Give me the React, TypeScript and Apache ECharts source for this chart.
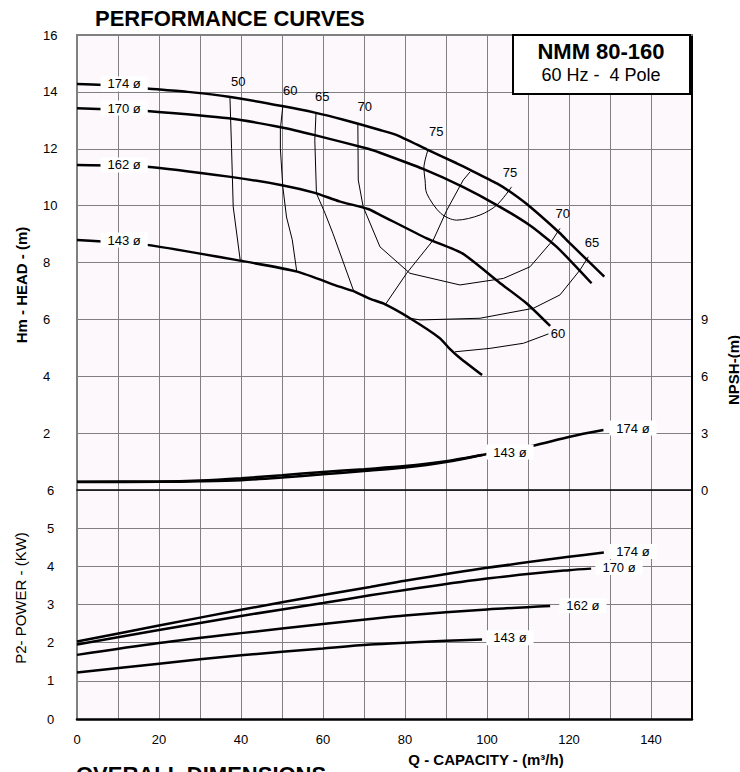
import React, { useEffect, useRef } from 'react';
import * as echarts from 'echarts';

const FONT = '"Liberation Sans", Arial, sans-serif';

// ---- Head curves: [Q (m3/h), H (m)] ----
const head174 = [[0, 14.28], [10, 14.22], [17, 14.12], [27, 14.0], [37, 13.83], [50, 13.5], [58, 13.27], [65, 13.02], [73.9, 12.66], [78, 12.48], [85.3, 11.98], [92.6, 11.49], [96, 11.25], [102.4, 10.78], [106, 10.45], [110.5, 9.96], [117.8, 9.03], [120.2, 8.68], [128.6, 7.5]];
const head170 = [[0, 13.42], [10, 13.38], [17, 13.33], [37, 13.07], [50, 12.75], [58, 12.48], [71, 12.0], [73.9, 11.86], [84.4, 11.29], [94.1, 10.66], [102.4, 10.02], [110.5, 9.3], [117, 8.55], [125.5, 7.27]];
const head162 = [[0, 11.43], [17, 11.37], [37, 11.02], [50, 10.72], [58, 10.45], [64, 10.15], [71, 9.88], [74, 9.67], [85.3, 8.85], [94, 8.32], [103, 7.3], [109.7, 6.56], [115.4, 5.77]];
const head143 = [[0, 8.79], [17, 8.62], [40, 8.06], [53.7, 7.68], [64, 7.15], [67.3, 7.0], [71.5, 6.72], [74.7, 6.56], [81.2, 6.04], [88.5, 5.34], [91, 4.95], [93.4, 4.64], [98.8, 4.04]];

// ---- Iso-efficiency lines: [Q, H] ----
const eff50 = [[37.3, 13.83], [37.7, 12.0], [38.1, 9.96], [39.8, 8.09]];
const eff60 = [[50.2, 13.5], [49.6, 12.7], [49.6, 12.0], [50.2, 10.66], [51.1, 9.6], [52.5, 8.8], [53.6, 7.68]];
const eff65 = [[58.3, 13.27], [58.0, 12.3], [58.4, 10.43], [60.5, 9.73], [62.4, 9.03], [67.4, 7.03]];
const eff70 = [[68.5, 12.9], [68.6, 10.9], [69.8, 9.96], [73.9, 8.55], [81.2, 7.62], [93.4, 7.21], [104, 7.44], [110.5, 7.85], [115.4, 8.67], [117.8, 9.2]];
const eff75 = [[85.6, 11.96], [84.6, 11.32], [84.9, 10.9], [85.3, 10.43], [88.7, 9.73], [92.6, 9.49], [98.3, 9.67], [102.4, 10.02], [106, 10.66]];
const eff65r = [[81.2, 6.04], [83.7, 5.98], [98.3, 6.04], [111.3, 6.39], [117.8, 6.86], [122.7, 7.74], [124.7, 8.2]];
const eff60r = [[92.2, 4.86], [100.7, 4.98], [108.9, 5.16], [115, 5.49]];
const bepLine = [[95.9, 11.19], [94.2, 10.9], [90.2, 9.84], [86.9, 8.79], [80.4, 7.62], [75.1, 6.5]];

// ---- NPSH curves: [Q, NPSH (m)] ----
const npsh174 = [[0, 0.44], [20, 0.45], [30, 0.5], [40, 0.62], [50, 0.78], [60, 0.95], [70, 1.1], [80, 1.26], [90, 1.52], [100, 1.9], [110.9, 2.32], [120.2, 2.81], [128.4, 3.16]];
const npsh143 = [[0, 0.42], [20, 0.43], [30, 0.46], [40, 0.52], [50, 0.66], [60, 0.83], [70, 1.0], [80, 1.19], [90, 1.48], [98.8, 1.85]];

// ---- Power curves: [Q, P2 (kW)] ----
const pow174 = [[0, 2.03], [20, 2.45], [40, 2.86], [60, 3.25], [71.5, 3.46], [80, 3.62], [100, 3.96], [120, 4.25], [128.5, 4.36]];
const pow170 = [[0, 1.95], [20, 2.33], [40, 2.7], [60, 3.04], [71.5, 3.24], [80, 3.38], [100, 3.68], [120, 3.9], [125.4, 3.94]];
const pow162 = [[0, 1.68], [20, 1.99], [40, 2.25], [60, 2.49], [71.5, 2.62], [80, 2.71], [100, 2.87], [115.4, 2.96]];
const pow143 = [[0, 1.22], [20, 1.45], [40, 1.67], [60, 1.85], [71.5, 1.95], [80, 2.0], [90, 2.05], [98.8, 2.08]];

// ---- Labels: [Q, value, text] ----
const headLabels: [number, number, string][] = [[11.5, 14.28, '174 ø'], [11.5, 13.43, '170 ø'], [11.5, 11.43, '162 ø'], [11.5, 8.79, '143 ø']];
const effLabels: [number, number, string][] = [[39.3, 14.35, '50'], [52, 14.06, '60'], [59.8, 13.82, '65'], [70.2, 13.47, '70'], [87.6, 12.59, '75'], [105.6, 11.18, '75'], [118.5, 9.74, '70'], [125.6, 8.72, '65'], [117.3, 5.49, '60']];
const npshLabels: [number, number, string][] = [[105.6, 2.0, '143 ø'], [135.6, 3.27, '174 ø']];
const powLabels: [number, number, string][] = [[135.6, 4.39, '174 ø'], [132.2, 3.97, '170 ø'], [123.4, 2.97, '162 ø'], [105.6, 2.13, '143 ø']];

const Q_MIN = 0, Q_MAX = 150, Q_STEP = 10;
const H_MIN = 0, H_MAX = 16, H_STEP = 2;
const N_MIN = 0, N_MAX = 24, N_STEP = 3, N_SHOW_MAX = 9;
const P_MIN = 0, P_MAX = 6, P_STEP = 1;

const GRID_COLOR = '#808080';

function curve(data: number[][], xi: number, yi: number, width: number, smooth: number | boolean, z = 3) {
  return {
    type: 'line', data, xAxisIndex: xi, yAxisIndex: yi, symbol: 'none', showSymbol: false,
    smooth, lineStyle: { color: '#000', width }, z, silent: true,
  };
}

function labels(items: [number, number, string][], xi: number, yi: number, bg: boolean) {
  return {
    type: 'scatter', xAxisIndex: xi, yAxisIndex: yi, symbolSize: 1, z: 10, silent: true,
    itemStyle: { color: 'rgba(0,0,0,0)' },
    data: items.map(([q, v, t]) => ({ value: [q, v], name: t })),
    label: {
      show: true, position: 'inside', formatter: '{b}', color: '#000000', opacity: 1,
      textBorderWidth: 0, textBorderColor: 'transparent',
      fontSize: 13, fontFamily: FONT,
      backgroundColor: bg ? '#ffffff' : 'transparent', padding: bg ? [1, 7] : 0,
    },
  };
}

const axisLabelStyle = { color: '#000', fontSize: 13, fontFamily: FONT };

const option = {
  animation: false,
  backgroundColor: '#ffffff',
  grid: [
    { left: 77, top: 35, width: 615, height: 455, show: true, backgroundColor: '#fcf8fc', borderWidth: 0 },
    { left: 77, top: 490, width: 615, height: 229, show: true, backgroundColor: '#fcf8fc', borderWidth: 0 },
  ],
  xAxis: [
    {
      gridIndex: 0, type: 'value', min: Q_MIN, max: Q_MAX, interval: Q_STEP, position: 'bottom',
      axisLine: { show: true, onZero: false, lineStyle: { color: '#000', width: 1.5 } },
      axisTick: { show: false }, axisLabel: { show: false },
      splitLine: { show: true, lineStyle: { color: GRID_COLOR, width: 1 } },
    },
    {
      gridIndex: 0, type: 'value', min: Q_MIN, max: Q_MAX, interval: Q_STEP, position: 'top',
      axisLine: { show: true, onZero: false, lineStyle: { color: GRID_COLOR, width: 2 } },
      axisTick: { show: false }, axisLabel: { show: false }, splitLine: { show: false },
    },
    {
      gridIndex: 1, type: 'value', min: Q_MIN, max: Q_MAX, interval: Q_STEP, position: 'bottom',
      axisLine: { show: true, onZero: false, lineStyle: { color: '#000', width: 2.5 } },
      axisTick: { show: false },
      axisLabel: { ...axisLabelStyle, margin: 14, formatter: (v: number) => (v % 20 === 0 && v < Q_MAX ? String(v) : '') },
      splitLine: { show: true, lineStyle: { color: GRID_COLOR, width: 1 } },
    },
  ],
  yAxis: [
    {
      gridIndex: 0, type: 'value', min: H_MIN, max: H_MAX, interval: H_STEP, position: 'left',
      axisLine: { show: true, onZero: false, lineStyle: { color: GRID_COLOR, width: 2 } },
      axisTick: { show: false },
      axisLabel: { ...axisLabelStyle, align: 'left', margin: 34, formatter: (v: number) => (v === 0 ? '' : String(v)) },
      splitLine: { show: true, lineStyle: { color: GRID_COLOR, width: 1 } },
    },
    {
      gridIndex: 0, type: 'value', min: N_MIN, max: N_MAX, interval: N_STEP, position: 'right',
      axisLine: { show: true, onZero: false, lineStyle: { color: '#000', width: 2 } },
      axisTick: { show: false },
      axisLabel: { ...axisLabelStyle, margin: 9, formatter: (v: number) => (v <= N_SHOW_MAX ? String(v) : '') },
      splitLine: { show: false },
    },
    {
      gridIndex: 1, type: 'value', min: P_MIN, max: P_MAX, interval: P_STEP, position: 'left',
      axisLine: { show: true, onZero: false, lineStyle: { color: GRID_COLOR, width: 2 } },
      axisTick: { show: false },
      axisLabel: { ...axisLabelStyle, align: 'left', margin: 30 },
      splitLine: { show: true, lineStyle: { color: GRID_COLOR, width: 1 } },
    },
    {
      gridIndex: 1, type: 'value', min: P_MIN, max: P_MAX, interval: P_STEP, position: 'right',
      axisLine: { show: true, onZero: false, lineStyle: { color: '#000', width: 2 } },
      axisTick: { show: false }, axisLabel: { show: false }, splitLine: { show: false },
    },
  ],
  series: [
    curve(eff50, 0, 0, 1, false, 2),
    curve(eff60, 0, 0, 1, false, 2),
    curve(eff65, 0, 0, 1, false, 2),
    curve(eff70, 0, 0, 1, false, 2),
    curve(eff75, 0, 0, 1, 0.3, 2),
    curve(eff65r, 0, 0, 1, false, 2),
    curve(eff60r, 0, 0, 1, false, 2),
    curve(bepLine, 0, 0, 1, false, 2),
    curve(head174, 0, 0, 2.5, 0.2),
    curve(head170, 0, 0, 2.5, 0.2),
    curve(head162, 0, 0, 2.5, 0.2),
    curve(head143, 0, 0, 2.5, 0.2),
    curve(npsh174, 0, 1, 2.5, 0.3),
    curve(npsh143, 0, 1, 2.5, 0.3),
    curve(pow174, 2, 2, 2.5, 0.3),
    curve(pow170, 2, 2, 2.5, 0.3),
    curve(pow162, 2, 2, 2.5, 0.3),
    curve(pow143, 2, 2, 2.5, 0.3),
    labels(headLabels, 0, 0, true),
    labels(effLabels, 0, 0, false),
    labels(npshLabels, 0, 1, true),
    labels(powLabels, 2, 2, true),
  ],
  graphic: [
    { type: 'text', x: 95, y: 18, z: 100, style: { text: 'PERFORMANCE CURVES', font: `bold 22px ${FONT}`, fill: '#000', align: 'left', verticalAlign: 'middle' } },
    { type: 'rect', z: 100, shape: { x: 513, y: 35, width: 177, height: 59 }, style: { fill: '#ffffff', stroke: '#000', lineWidth: 2 } },
    { type: 'text', x: 601, y: 51, z: 101, style: { text: 'NMM 80-160', font: `bold 22px ${FONT}`, fill: '#000', align: 'center', verticalAlign: 'middle' } },
    { type: 'text', x: 601, y: 75, z: 101, style: { text: '60 Hz -  4 Pole', font: `18px ${FONT}`, fill: '#000', align: 'center', verticalAlign: 'middle' } },
    { type: 'text', x: 21, y: 285, rotation: Math.PI / 2, z: 100, style: { text: 'Hm - HEAD - (m)', font: `bold 15px ${FONT}`, fill: '#000', align: 'center', verticalAlign: 'middle' } },
    { type: 'text', x: 20, y: 598, rotation: Math.PI / 2, z: 100, style: { text: 'P2- POWER - (KW)', font: `15px ${FONT}`, fill: '#000', align: 'center', verticalAlign: 'middle' } },
    { type: 'text', x: 733, y: 370, rotation: Math.PI / 2, z: 100, style: { text: 'NPSH-(m)', font: `bold 15px ${FONT}`, fill: '#000', align: 'center', verticalAlign: 'middle' } },
    { type: 'text', x: 486, y: 759, z: 100, style: { text: 'Q - CAPACITY - (m³/h)', font: `bold 15px ${FONT}`, fill: '#000', align: 'center', verticalAlign: 'middle' } },
    { type: 'text', x: 76, y: 774, z: 100, style: { text: 'OVERALL DIMENSIONS', font: `bold 22px ${FONT}`, fill: '#000', align: 'left', verticalAlign: 'middle' } },
  ],
};

export default function App() {
  const ref = useRef<HTMLDivElement>(null);
  useEffect(() => {
    document.body.style.margin = '0';
    const chart = echarts.init(ref.current as HTMLDivElement, undefined, { renderer: 'svg', width: 740, height: 772 });
    chart.setOption(option as any);
    return () => chart.dispose();
  }, []);
  return <div ref={ref} style={{ width: 740, height: 772, background: '#ffffff', overflow: 'hidden' }} />;
}
